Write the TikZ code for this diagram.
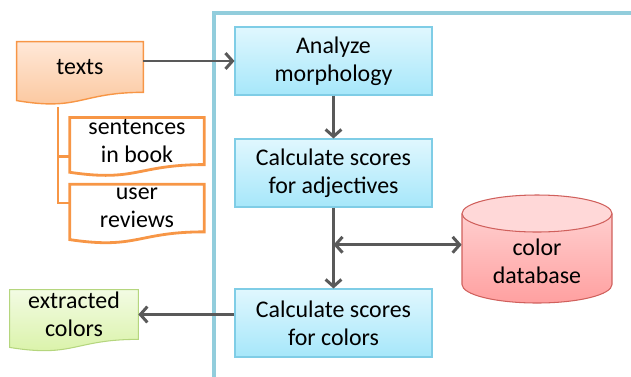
\documentclass[tikz,border=0pt]{standalone}
\usepackage{fontspec}
\setmainfont{Carlito}
\usepackage{xcolor}
\usetikzlibrary{arrows.meta,calc,backgrounds}

\definecolor{framecol}{HTML}{92CDDC}
\definecolor{boxline}{HTML}{7FCDE6}
\definecolor{boxtop}{HTML}{E0F7FE}
\definecolor{boxbot}{HTML}{A6E7FA}
\definecolor{arrowgray}{HTML}{595959}
\definecolor{textline}{HTML}{F79646}
\definecolor{texttop}{HTML}{FFE8D8}
\definecolor{textbot}{HTML}{FBC59A}
\definecolor{extline}{HTML}{B5D67E}
\definecolor{exttop}{HTML}{F2FBE3}
\definecolor{extbot}{HTML}{D8F2A4}
\definecolor{dbline}{HTML}{D0605C}
\definecolor{dbtop}{HTML}{FFD8D8}
\definecolor{dbbot}{HTML}{FFA0A0}

\tikzset{
  font=\fontsize{13.6}{16}\selectfont,
  stepbox/.style={draw=boxline, line width=0.6pt, top color=boxtop, bottom color=boxbot,
    minimum width=3.94cm, minimum height=1.36cm, align=center},
  doc/.style={align=center, inner sep=0pt},
  flow/.style={draw=arrowgray, line width=1.7pt, -{Straight Barb[length=4pt,width=9pt]}},
  tree/.style={draw=textline, line width=1.6pt},
  frame/.style={draw=framecol, line width=2pt},
}

% document outline round a node: flat top, wavy bottom
\newcommand\docoutline[2]{%
  \path[#2] (#1.north west) -- (#1.north east) -- (#1.south east)
    .. controls (#1.south) and ($(#1.north)!1.375!(#1.south)$)
    .. ($(#1.north west)!1.1625!(#1.south west)$) -- cycle;}

\begin{document}
\begin{tikzpicture}[x=0.02cm, y=-0.02cm]
\useasboundingbox (0,0) rectangle (631,376);

\draw[frame] (214,390) |- (650,13);

\node[stepbox] (morph) at (333.5,61) {Analyze\\morphology};
\node[stepbox] (adj) at (333.5,173) {Calculate scores\\for adjectives};
\node[stepbox] (col) at (333.5,323) {Calculate scores\\for colors};

\node[doc, minimum width=2.52cm, minimum height=1.0cm] (texts) at (80,67) {texts};
\node[doc, minimum width=2.68cm, minimum height=0.93cm] (sent) at (137,141) {sentences\\in book};
\node[doc, minimum width=2.68cm, minimum height=0.94cm] (rev) at (137,208) {user\\reviews};
\node[doc, minimum width=2.56cm, minimum height=0.98cm] (ext) at (74,314.5) {extracted\\colors};

\begin{scope}[on background layer]
  \docoutline{texts}{draw=textline, line width=0.8pt, top color=texttop, bottom color=textbot}
  \docoutline{sent}{draw=textline, line width=1.6pt, fill=white}
  \docoutline{rev}{draw=textline, line width=1.6pt, fill=white}
  \docoutline{ext}{draw=extline, line width=0.6pt, top color=exttop, bottom color=extbot}
\end{scope}

% color database
\path[top color=dbtop, bottom color=dbbot] (462,213.5) -- (462,284.5)
  arc[start angle=180, end angle=360, x radius=1.5cm, y radius=0.37cm] -- (612,213.5)
  arc[start angle=0, end angle=180, x radius=1.5cm, y radius=0.37cm] -- cycle;
\draw[dbline, line width=0.6pt] (462,213.5) -- (462,284.5)
  arc[start angle=180, end angle=360, x radius=1.5cm, y radius=0.37cm] -- (612,213.5);
\draw[dbline, line width=0.6pt, fill=dbtop] (537,213.5) ellipse[x radius=1.5cm, y radius=0.37cm];
\node[minimum width=3cm, inner sep=0pt, align=center] (db) at (537,261) {color\\database};

\coordinate (trunk) at (58,107);
\coordinate (sentb) at ($(sent.south west)+(0,-8)$);
\draw[tree] (trunk) |- ($(rev.west)+(0,-5)$);
\draw[tree] (trunk |- sentb) -- (sentb);

\draw[flow] (morph.west -| texts.east) -- (morph.west);
\draw[flow] (morph) -- (adj);
\draw[flow] (adj) -- (col);
\coordinate (mid) at ($(adj.south)!0.46!(col.north)$);
\draw[flow, {Straight Barb[length=4pt,width=9pt]}-{Straight Barb[length=4pt,width=9pt]}] (mid) -- (mid -| db.west);
\draw[flow] (ext.east -| col.west) -- (ext.east);

\end{tikzpicture}
\end{document}
